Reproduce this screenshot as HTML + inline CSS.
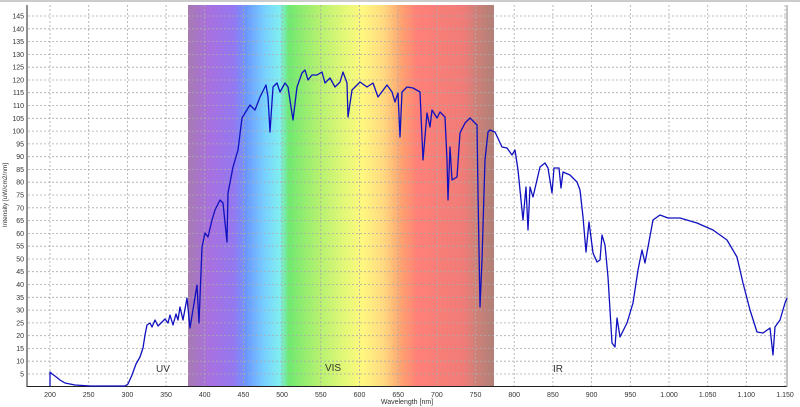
<!DOCTYPE html><html><head><style>body{margin:0;background:#fff}svg{display:block;font-family:"Liberation Sans",sans-serif}</style></head><body>
<svg width="800" height="407" viewBox="0 0 800 407" xmlns="http://www.w3.org/2000/svg">
<defs><linearGradient id="sp" x1="0" x2="1" y1="0" y2="0">
<stop offset="0" stop-color="#a77ab2"/><stop offset="0.07" stop-color="#a870e0"/><stop offset="0.15" stop-color="#9478f0"/><stop offset="0.19" stop-color="#6c98ff"/><stop offset="0.25" stop-color="#78d0ff"/><stop offset="0.3" stop-color="#80eef0"/><stop offset="0.33" stop-color="#70e870"/><stop offset="0.42" stop-color="#b0f070"/><stop offset="0.52" stop-color="#e8f878"/><stop offset="0.57" stop-color="#fff880"/><stop offset="0.64" stop-color="#ffd880"/><stop offset="0.7" stop-color="#ffa070"/><stop offset="0.75" stop-color="#ff8078"/><stop offset="0.9" stop-color="#f07c78"/><stop offset="0.94" stop-color="#d08078"/><stop offset="1" stop-color="#b08078"/>
</linearGradient></defs>
<rect x="0" y="0" width="800" height="2" fill="#ccc"/>
<rect x="188" y="5" width="306" height="381" fill="url(#sp)"/>
<path stroke="#aaa" stroke-width="0.8" stroke-dasharray="2,2" fill="none" d="M28 374H787M28 361.2H787M28 348.4H787M28 335.7H787M28 322.9H787M28 310.1H787M28 297.3H787M28 284.5H787M28 271.7H787M28 259H787M28 246.2H787M28 233.4H787M28 220.6H787M28 207.8H787M28 195H787M28 182.2H787M28 169.5H787M28 156.7H787M28 143.9H787M28 131.1H787M28 118.3H787M28 105.5H787M28 92.7H787M28 80H787M28 67.2H787M28 54.4H787M28 41.6H787M28 28.8H787M28 16H787M50 5V386M88.7 5V386M127.4 5V386M166.1 5V386M204.7 5V386M243.4 5V386M282.1 5V386M320.8 5V386M359.5 5V386M398.2 5V386M436.9 5V386M475.5 5V386M514.2 5V386M552.9 5V386M591.6 5V386M630.3 5V386M669 5V386M707.7 5V386M746.3 5V386M785 5V386"/>
<g font-size="7" fill="#333" text-anchor="end">
<text x="24" y="376.5">5</text><text x="24" y="363.7">10</text><text x="24" y="350.9">15</text><text x="24" y="338.2">20</text><text x="24" y="325.4">25</text><text x="24" y="312.6">30</text><text x="24" y="299.8">35</text><text x="24" y="287">40</text><text x="24" y="274.2">45</text><text x="24" y="261.5">50</text><text x="24" y="248.7">55</text><text x="24" y="235.9">60</text><text x="24" y="223.1">65</text><text x="24" y="210.3">70</text><text x="24" y="197.5">75</text><text x="24" y="184.7">80</text><text x="24" y="172">85</text><text x="24" y="159.2">90</text><text x="24" y="146.4">95</text><text x="24" y="133.6">100</text><text x="24" y="120.8">105</text><text x="24" y="108">110</text><text x="24" y="95.2">115</text><text x="24" y="82.5">120</text><text x="24" y="69.7">125</text><text x="24" y="56.9">130</text><text x="24" y="44.1">135</text><text x="24" y="31.3">140</text><text x="24" y="18.5">145</text>
</g>
<g font-size="7" fill="#333" text-anchor="middle">
<text x="50" y="397">200</text><text x="88.7" y="397">250</text><text x="127.4" y="397">300</text><text x="166.1" y="397">350</text><text x="204.7" y="397">400</text><text x="243.4" y="397">450</text><text x="282.1" y="397">500</text><text x="320.8" y="397">550</text><text x="359.5" y="397">600</text><text x="398.2" y="397">650</text><text x="436.9" y="397">700</text><text x="475.5" y="397">750</text><text x="514.2" y="397">800</text><text x="552.9" y="397">850</text><text x="591.6" y="397">900</text><text x="630.3" y="397">950</text><text x="669" y="397">1.000</text><text x="707.7" y="397">1.050</text><text x="746.3" y="397">1.100</text><text x="785" y="397">1.150</text>
</g>
<line x1="27" y1="5" x2="27" y2="387" stroke="#222"/>
<line x1="27" y1="386.5" x2="787" y2="386.5" stroke="#222"/>
<line x1="787" y1="5" x2="787" y2="387" stroke="#888"/>
<text x="7" y="195" font-size="6.5" fill="#333" text-anchor="middle" transform="rotate(-90 7 195)">Intensity [uW/cm2/nm]</text>
<text x="407" y="404" font-size="7" fill="#333" text-anchor="middle">Wavelength [nm]</text>
<text x="163" y="372" font-size="10" fill="#333" text-anchor="middle">UV</text>
<text x="333" y="371" font-size="10" fill="#333" text-anchor="middle">VIS</text>
<text x="558" y="372" font-size="10" fill="#333" text-anchor="middle">IR</text>
<polyline fill="none" stroke="#1010c0" stroke-width="1.3" stroke-linejoin="round" points="50,386 50,372 52,374 55,376 60,380 65,383 75,385 90,386 125,386 128,384 132,375 136,364 140,357 143,348 145,335 147,325 150,323 152,327 155,320 158,326 162,322 165,319 168,323 170,315 173,325 176,314 178,320 180,307 183,320 187,298 190,328 197,285 199,323 202,247 205,233 208,237 212,220 215,210 220,200 223,203 227,242 228,193 233,167 238,150 242,118 245,113 250,105 255,110 260,97 266,85 268,97 270,132 273,87 277,83 280,92 285,83 288,87 293,120 297,87 302,73 305,70 308,80 312,75 317,75 322,72 325,83 330,78 335,87 340,82 343,72 347,83 348,117 352,90 360,82 367,87 373,83 378,97 387,85 392,92 395,102 398,93 400,137 402,92 407,87 413,88 420,92 423,160 427,113 430,127 432,110 437,118 440,112 445,117 447,160 448,200 450,147 452,180 457,177 460,133 465,123 470,118 477,125 478,193 480,307 482,260 485,160 488,132 490,130 495,132 502,147 507,148 512,155 515,150 518,170 523,220 526,187 528,230 530,187 533,197 540,167 545,163 548,168 552,193 554,168 559,168 561,188 563,172 570,175 577,182 580,190 583,217 586,252 589,222 593,253 597,262 600,260 602,235 605,245 608,277 612,343 615,347 617,318 620,337 627,323 633,303 638,270 642,250 645,263 648,247 653,220 660,215 668,218 680,218 697,223 713,230 727,240 737,257 743,283 750,310 757,332 763,333 770,328 773,355 775,327 780,320 785,303 787,298"/>
</svg></body></html>
